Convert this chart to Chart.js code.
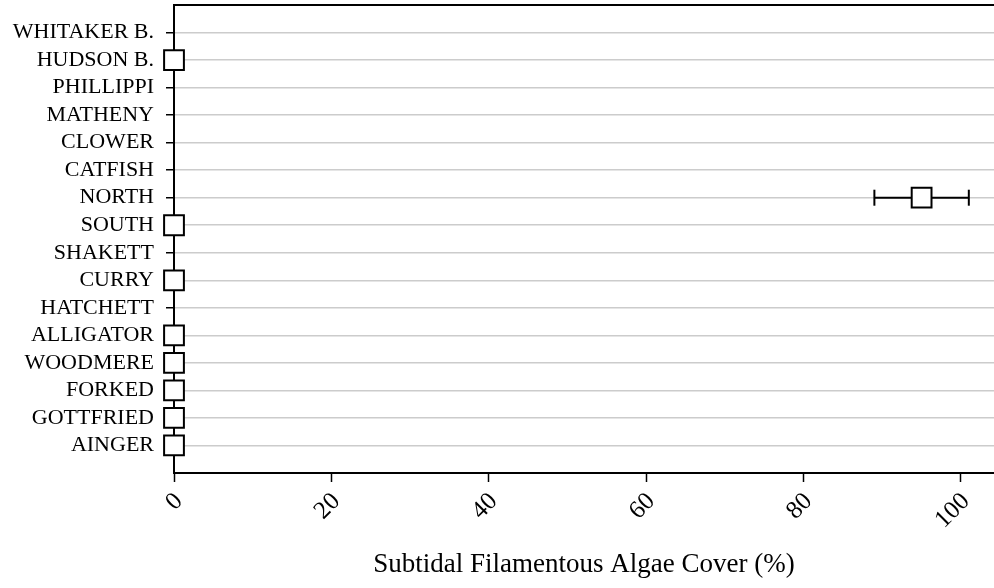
<!DOCTYPE html>
<html>
<head>
<meta charset="utf-8">
<script src="https://cdn.jsdelivr.net/npm/chart.js@4/dist/chart.umd.min.js"></script>
<style>
  html, body { margin: 0; padding: 0; background: #ffffff; }
  #wrap { width: 994px; height: 588px; }
</style>
</head>
<body>
<div id="wrap"><canvas id="c" width="994" height="588"></canvas></div>
<script>
const categories = ['WHITAKER B.', 'HUDSON B.', 'PHILLIPPI', 'MATHENY', 'CLOWER', 'CATFISH', 'NORTH', 'SOUTH',
  'SHAKETT', 'CURRY', 'HATCHETT', 'ALLIGATOR', 'WOODMERE', 'FORKED', 'GOTTFRIED', 'AINGER'];
const meanCover = [null, 0, null, null, null, null, 95, 0, null, 0, null, 0, 0, 0, 0, 0];
const errLow    = [null, null, null, null, null, null, 89, null, null, null, null, null, null, null, null, null];
const errHigh   = [null, null, null, null, null, null, 101, null, null, null, null, null, null, null, null, null];
const xTickValues = [0, 20, 40, 60, 80, 100];
const xAxisMin = 0;
const xAxisMax = 104.2;
const xTitle = 'Subtidal Filamentous Algae Cover (%)';

const FONT = "'Liberation Serif', 'Times New Roman', Times, serif";

const meanPoints = [];
categories.forEach((c, i) => {
  if (meanCover[i] !== null) meanPoints.push({ x: meanCover[i], y: i });
});
const errPoints = [];
categories.forEach((c, i) => {
  if (errLow[i] !== null && errHigh[i] !== null) {
    errPoints.push({ x: errLow[i], y: i });
    errPoints.push({ x: errHigh[i], y: i });
    errPoints.push({ x: null, y: null });
  }
});

new Chart(document.getElementById('c'), {
  type: 'scatter',
  data: {
    datasets: [
      {
        label: 'mean',
        data: meanPoints,
        pointStyle: 'rect',
        pointRadius: 14,
        pointHoverRadius: 14,
        borderColor: '#000000',
        backgroundColor: '#ffffff',
        borderWidth: 2,
        pointBorderWidth: 2,
        showLine: false,
        clip: false,
        order: 0
      },
      {
        label: 'error',
        data: errPoints,
        showLine: true,
        spanGaps: false,
        borderColor: '#000000',
        borderWidth: 2,
        pointStyle: 'line',
        pointRotation: 90,
        pointRadius: 8,
        pointHoverRadius: 8,
        pointBorderWidth: 2,
        pointBorderColor: '#000000',
        clip: false,
        order: 1
      }
    ]
  },
  options: {
    responsive: false,
    animation: false,
    devicePixelRatio: 1,
    events: [],
    layout: { autoPadding: false, padding: { top: 5, right: 0, bottom: 0, left: 0 } },
    plugins: { legend: { display: false }, tooltip: { enabled: false } },
    scales: {
      x: {
        type: 'linear',
        position: 'bottom',
        min: xAxisMin,
        max: xAxisMax,
        afterBuildTicks: (axis) => { axis.ticks = xTickValues.map(v => ({ value: v })); },
        afterFit: (axis) => { axis.height = 115; axis.paddingLeft = 0; axis.paddingRight = 0; },
        grid: { display: true, drawOnChartArea: false, drawTicks: true, tickLength: 9, tickColor: '#000000', tickWidth: 1.5 },
        border: { display: true, color: '#000000', width: 2 },
        ticks: {
          color: '#000000',
          font: { family: FONT, size: 25 },
          minRotation: 45,
          maxRotation: 45,
          padding: 5,
          labelOffset: 5,
          autoSkip: false
        },
        title: {
          display: true,
          text: xTitle,
          color: '#000000',
          font: { family: FONT, size: 27 },
          padding: { top: 0, bottom: 7 }
        }
      },
      x2: {
        type: 'linear',
        position: 'top',
        min: xAxisMin,
        max: xAxisMax,
        display: true,
        grid: { display: false, drawTicks: false },
        ticks: { display: false },
        border: { display: true, color: '#000000', width: 2 },
        afterFit: (axis) => { axis.height = 0; axis.paddingLeft = 0; axis.paddingRight = 0; }
      },
      y: {
        type: 'linear',
        position: 'left',
        min: -1,
        max: categories.length,
        reverse: true,
        afterBuildTicks: (axis) => { axis.ticks = categories.map((c, i) => ({ value: i })); },
        afterFit: (axis) => { axis.width = 174; axis.paddingTop = 0; axis.paddingBottom = 0; },
        grid: { display: true, color: '#cccccc', lineWidth: 1.5, drawTicks: true, tickLength: 8, tickColor: '#000000', tickWidth: 1.5 },
        border: { display: true, color: '#000000', width: 2 },
        ticks: {
          color: '#000000',
          font: { family: FONT, size: 22 },
          padding: 12,
          autoSkip: false,
          callback: (v) => categories[v] !== undefined ? categories[v] : ''
        }
      }
    }
  }
});
</script>
</body>
</html>
